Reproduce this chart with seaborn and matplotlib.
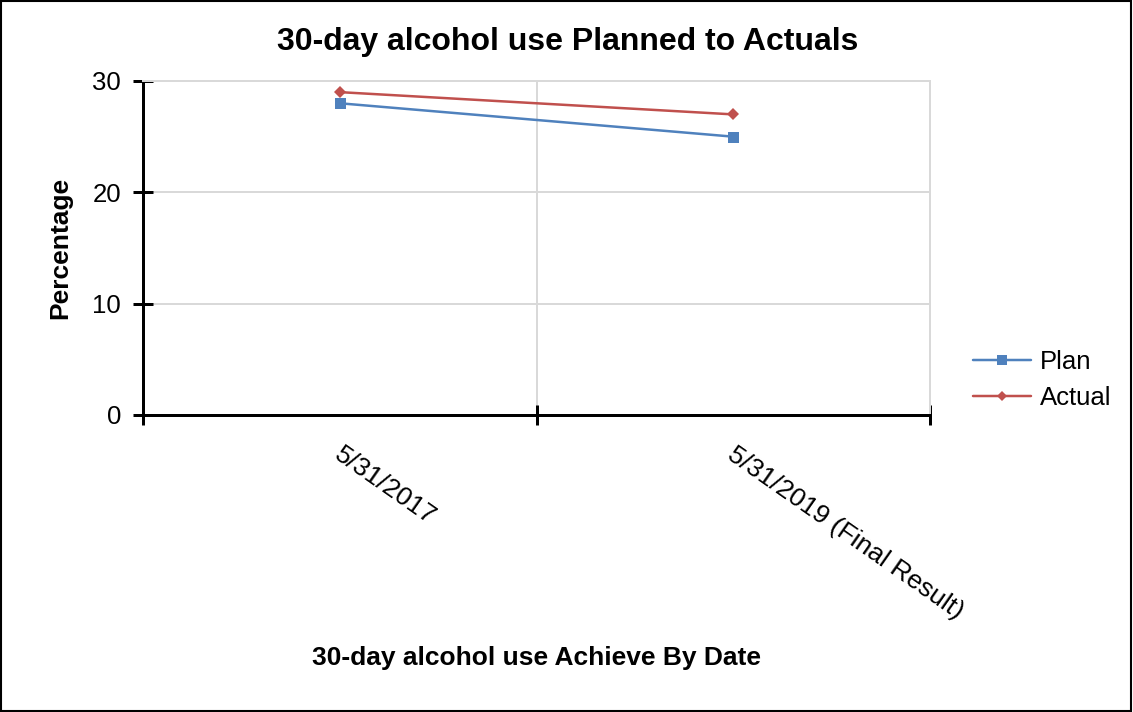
import numpy as np
import pandas as pd
import matplotlib
matplotlib.use("Agg")
import matplotlib.pyplot as plt
import seaborn as sns
from matplotlib.lines import Line2D

categories = ["5/31/2017", "5/31/2019 (Final Result)"]
plan = [28, 25]
actual = [29, 27]
series_names = ["Plan", "Actual"]
title = "30-day alcohol use Planned to Actuals"
xlabel = "30-day alcohol use Achieve By Date"
ylabel = "Percentage"
yticks = [0, 10, 20, 30]

sns.set_theme(style="white")
plt.rcParams["font.family"] = ["Liberation Sans", "DejaVu Sans"]
plt.rcParams["text.color"] = "black"
plt.rcParams["xtick.color"] = "black"
plt.rcParams["ytick.color"] = "black"
plt.rcParams["xtick.labelcolor"] = "black"
plt.rcParams["ytick.labelcolor"] = "black"

W, H = 1133, 712
PX = 72 / 100  # points per pixel
fig = plt.figure(figsize=(W / 100, H / 100), dpi=100)
ax = fig.add_axes([143 / W, 1 - 415 / H, (930 - 143) / W, (415 - 81) / H])

pos = np.arange(len(categories))
df = pd.DataFrame({
    "x": np.concatenate([pos, pos]),
    "value": plan + actual,
    "series": [series_names[0]] * len(plan) + [series_names[1]] * len(actual),
})

colors = {"Plan": "#4F81BD", "Actual": "#C0504D"}
sns.lineplot(data=df, x="x", y="value", hue="series", style="series",
             palette=colors, markers={"Plan": "s", "Actual": "D"},
             dashes=False, ax=ax, linewidth=2.5 * PX, markeredgewidth=0,
             legend=False)
for line, ms in zip(ax.get_lines(), [11 * PX, 9 * PX]):
    line.set_markersize(ms)

ax.set_xlim(-0.5, len(categories) - 0.5)
ax.set_ylim(0, 30)

# ticks
ax.set_xticks(np.arange(-0.5, len(categories), 1.0))
ax.set_xticklabels([])
ax.tick_params(axis="x", which="major", direction="inout", length=20 * PX, width=3 * PX,
               color="black", bottom=True)
ax.set_yticks(yticks)
ax.tick_params(axis="y", which="major", direction="inout", length=20 * PX, width=3 * PX,
               color="black", left=True, labelsize=18.5, pad=12 * PX)

# rotated category labels
for p, c in zip(pos, categories):
    ax.annotate(c, xy=(p, 0), xycoords="data", xytext=(4, -27), textcoords="offset pixels",
                rotation=-35, rotation_mode="anchor", ha="left", va="top", fontsize=19,
                color="black")

ax.grid(True, which="major", color="#D9D9D9", linewidth=2 * PX)
ax.set_axisbelow(True)
for s in ["top", "right"]:
    ax.spines[s].set_color("#D9D9D9")
    ax.spines[s].set_linewidth(2 * PX)
for s in ["left", "bottom"]:
    ax.spines[s].set_color("black")
    ax.spines[s].set_linewidth(3 * PX)
ax.set_xlabel("")
ax.set_ylabel("")

fig.text(568 / W, 1 - 42 / H, title, ha="center", va="center", fontsize=23, fontweight="bold")
fig.text(60 / W, 1 - 248 / H, ylabel, ha="center", va="center", rotation=90, fontsize=19,
         fontweight="bold")
fig.text(536 / W, 1 - 658 / H, xlabel, ha="center", va="center", fontsize=19, fontweight="bold")

# legend
handles = [
    Line2D([], [], color=colors["Plan"], marker="s", markersize=10.5 * PX, markeredgewidth=0,
           linewidth=2.5 * PX),
    Line2D([], [], color=colors["Actual"], marker="D", markersize=7 * PX, markeredgewidth=0,
           linewidth=2.5 * PX),
]
fig.legend(handles, series_names, loc="center left", bbox_to_anchor=(973 / W, 1 - 380 / H),
           frameon=False, fontsize=18.5, handlelength=2.25, handletextpad=0.35,
           labelspacing=0.5, borderaxespad=0, borderpad=0)

# figure border
fig.patches.append(plt.Rectangle((0.0005, 0.0008), 0.998, 0.998, transform=fig.transFigure,
                                 fill=False, edgecolor="black", linewidth=1.5))

fig.savefig("out.png", dpi=100, facecolor="white")
